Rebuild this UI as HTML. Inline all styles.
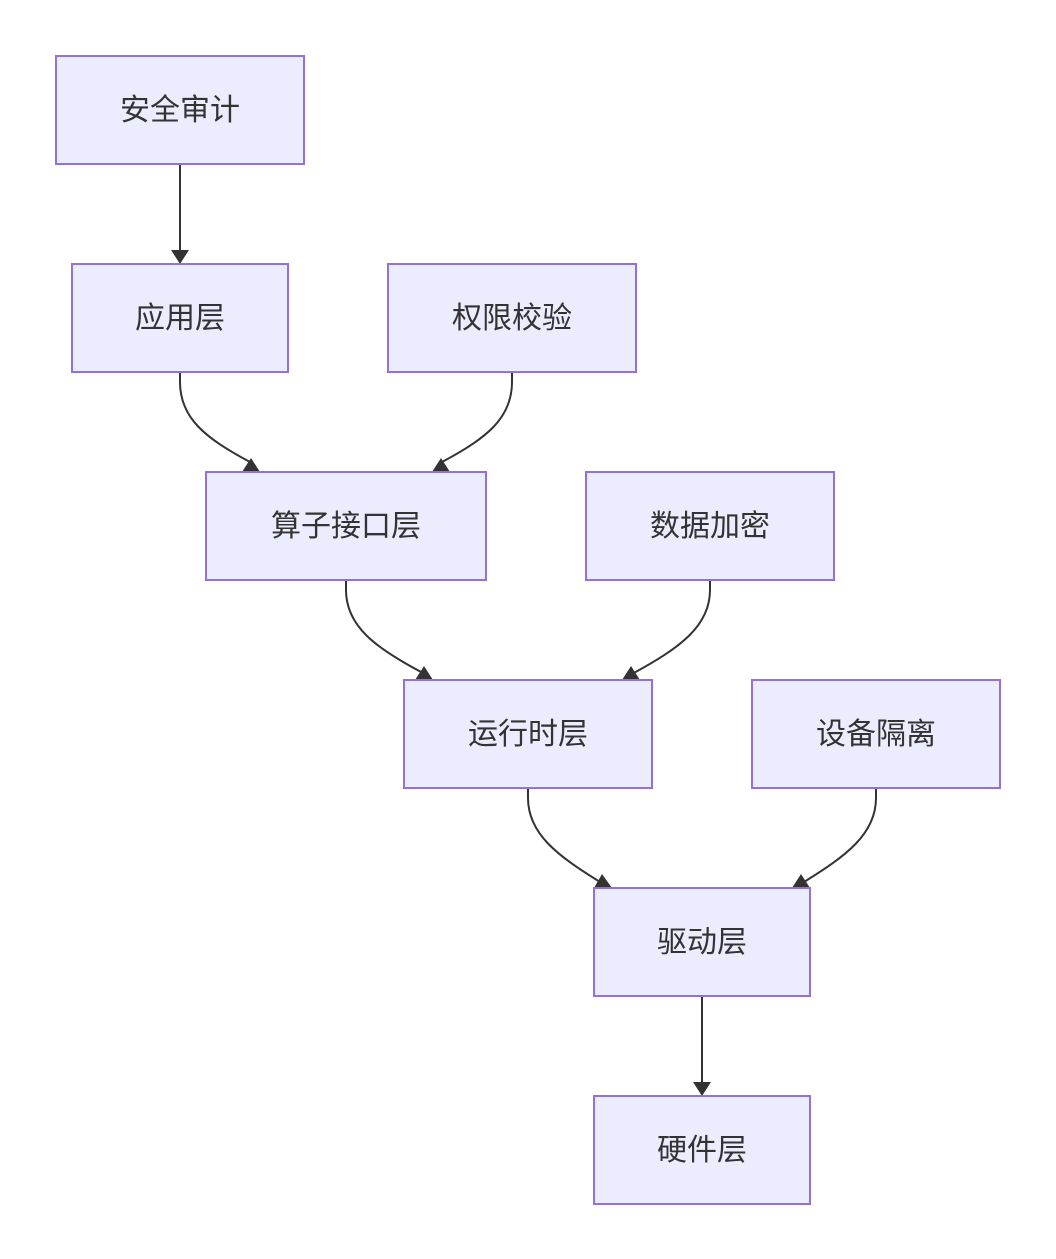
<!DOCTYPE html>
<html><head><meta charset="utf-8"><style>
html,body{margin:0;padding:0;background:#fff;}
svg{display:block}
text{font-family:"Liberation Sans","Noto Sans CJK SC",sans-serif;font-size:30px;fill:#333;}
</style></head><body>
<svg width="1056" height="1259" viewBox="0 0 1056 1259" xmlns="http://www.w3.org/2000/svg">
<g fill="none" stroke="#333" stroke-width="2">
<path d="M180,164 V252"/>
<path d="M180,372 V382 C180,418 205,438 250,462 L253,466"/>
<path d="M512,372 V382 C512,418 487,438 442,462 L439,466"/>
<path d="M346,580 V590 C346,626 375,648 425,674"/>
<path d="M710,580 V590 C710,626 680,648 632,674"/>
<path d="M528,788 V798 C528,834 558,856 600,882"/>
<path d="M876,788 V798 C876,834 846,856 804,882"/>
<path d="M702,996 V1084"/>
</g>
<g fill="#333">
<polygon points="171,250 189,250 180,264"/>
<polygon points="242,472 260,472 251,458"/>
<polygon points="432,472 450,472 441,458"/>
<polygon points="415,680 433,680 424,666"/>
<polygon points="622,680 640,680 631,666"/>
<polygon points="594,888 612,888 602,874"/>
<polygon points="792,888 810,888 801,874"/>
<polygon points="693,1082 711,1082 702,1096"/>
</g>
<g fill="#ECECFF" stroke="#9370DB" stroke-width="2">
<rect x="56" y="56" width="248" height="108"/>
<rect x="72" y="264" width="216" height="108"/>
<rect x="388" y="264" width="248" height="108"/>
<rect x="206" y="472" width="280" height="108"/>
<rect x="586" y="472" width="248" height="108"/>
<rect x="404" y="680" width="248" height="108"/>
<rect x="752" y="680" width="248" height="108"/>
<rect x="594" y="888" width="216" height="108"/>
<rect x="594" y="1096" width="216" height="108"/>
</g>
<g text-anchor="middle">
<text x="180" y="120">安全审计</text>
<text x="180" y="328">应用层</text>
<text x="512" y="328">权限校验</text>
<text x="346" y="536">算子接口层</text>
<text x="710" y="536">数据加密</text>
<text x="528" y="744">运行时层</text>
<text x="876" y="744">设备隔离</text>
<text x="702" y="952">驱动层</text>
<text x="702" y="1160">硬件层</text>
</g>
</svg>
</body></html>
